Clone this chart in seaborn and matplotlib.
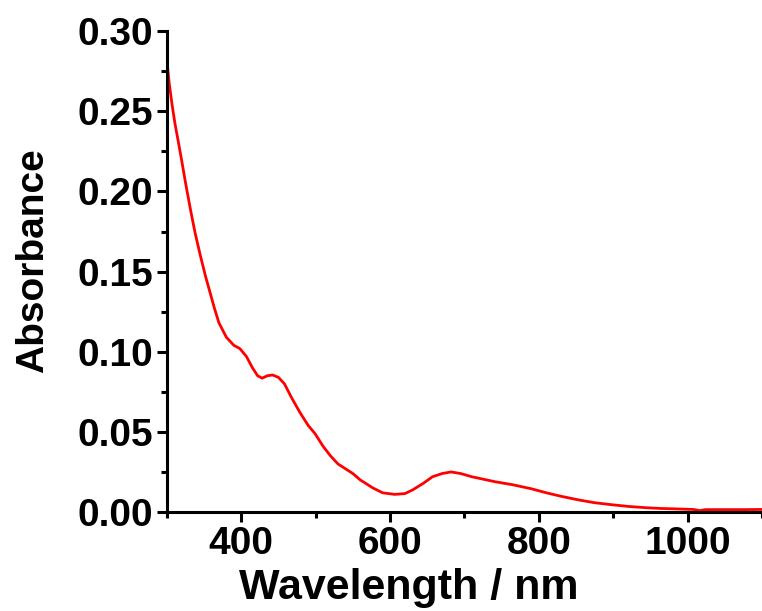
import matplotlib
matplotlib.use("Agg")
import matplotlib.pyplot as plt
from matplotlib.ticker import MultipleLocator, FormatStrFormatter
import seaborn as sns
import pandas as pd

# UV-Vis-NIR absorption spectrum
wavelength = [300, 303, 307, 311, 315, 320, 326, 332, 338, 345, 352, 358, 364, 370,
              380, 390, 398, 407, 415, 422, 428, 435, 442, 450, 458, 468, 479, 490,
              499, 510, 520, 530, 540, 550, 560, 577, 590, 606, 620, 630, 645, 657,
              670, 682, 695, 710, 720, 740, 765, 790, 810, 830, 854, 875, 899, 920,
              944, 965, 988, 1008, 1016, 1024, 1050, 1075, 1100]
absorbance = [0.282, 0.268, 0.254, 0.242, 0.232, 0.219, 0.203, 0.188, 0.174, 0.160,
              0.147, 0.137, 0.127, 0.118, 0.109, 0.104, 0.102, 0.097, 0.090, 0.085,
              0.0835, 0.085, 0.0855, 0.084, 0.080, 0.071, 0.062, 0.054, 0.049, 0.041,
              0.035, 0.030, 0.027, 0.024, 0.020, 0.015, 0.012, 0.011, 0.0115, 0.0137,
              0.018, 0.022, 0.024, 0.025, 0.024, 0.022, 0.021, 0.019, 0.017, 0.0145,
              0.012, 0.0098, 0.0075, 0.0058, 0.0045, 0.0035, 0.0027, 0.0022, 0.0019,
              0.0016, 0.0009, 0.0015, 0.0015, 0.0015, 0.0016]

df = pd.DataFrame({"Wavelength": wavelength, "Absorbance": absorbance})

sns.set_theme(style="ticks")
plt.rcParams["font.family"] = ["Liberation Sans", "DejaVu Sans"]
plt.rcParams["font.weight"] = "bold"
plt.rcParams["text.color"] = "black"
plt.rcParams["axes.labelcolor"] = "black"

fig = plt.figure(figsize=(7.62, 6.11), dpi=100)
ax = fig.add_axes([0.219, 0.162, 0.781, 0.787])

sns.lineplot(data=df, x="Wavelength", y="Absorbance", ax=ax,
             color="#ff0000", linewidth=2.0, sort=False)

ax.set_xlim(300, 1100)
ax.set_ylim(0, 0.30)
ax.set_xticks([400, 600, 800, 1000])
ax.xaxis.set_minor_locator(MultipleLocator(100))
ax.yaxis.set_major_locator(MultipleLocator(0.05))
ax.yaxis.set_minor_locator(MultipleLocator(0.025))
ax.yaxis.set_major_formatter(FormatStrFormatter("%.2f"))

for side in ["top", "right"]:
    ax.spines[side].set_visible(False)
for side in ["left", "bottom"]:
    ax.spines[side].set_linewidth(2.2)
    ax.spines[side].set_color("black")

ax.tick_params(which="major", direction="out", length=7, width=2.2,
               labelsize=28, pad=3, colors="black")
ax.tick_params(which="minor", direction="out", length=4, width=2.2, colors="black")
for lab in ax.get_xticklabels() + ax.get_yticklabels():
    lab.set_fontweight("bold")

ax.set_xlabel("Wavelength / nm", fontsize=31, fontweight="bold", color="black")
ax.xaxis.label.set_va("bottom")
ax.set_ylabel("Absorbance", fontsize=28, fontweight="bold", color="black")
ax.xaxis.set_label_coords(0.407, -0.199)
ax.yaxis.set_label_coords(-0.195, 0.523)

fig.savefig("out.png", dpi=100)
